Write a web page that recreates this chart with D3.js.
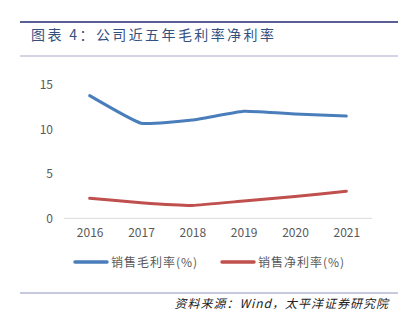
<!DOCTYPE html>
<html><head><meta charset="utf-8">
<script src="https://cdn.jsdelivr.net/npm/d3@7"></script>
<style>body{margin:0;background:#fff;}svg{display:block;}</style>
</head><body><svg id="c" width="410" height="324"></svg>
<script>
const years = ["2016","2017","2018","2019","2020","2021"];
const grossMargin = [13.8, 10.7, 11.05, 12.05, 11.75, 11.5];
const netMargin = [2.25, 1.75, 1.45, 1.95, 2.45, 3.05];
const yTicks = [0, 5, 10, 15];
const seriesNames = ["销售毛利率(%)", "销售净利率(%)"];
const titleText = "图表 4：公司近五年毛利率净利率";
const sourceText = "资料来源：Wind，太平洋证券研究院";

const svg = d3.select("#c");
const font = "'Noto Sans CJK SC', 'Noto Sans', sans-serif";
svg.append("rect").attr("width",410).attr("height",324).attr("fill","#fff");
svg.append("line").attr("x1",20).attr("x2",398).attr("y1",22).attr("y2",22).attr("stroke","#5b5f97").attr("stroke-width",2);
svg.append("text").attr("x",31).attr("y",39.5).attr("font-family",font).attr("font-size",14).attr("fill","#34507f").attr("letter-spacing",2.4).text(titleText);
svg.append("line").attr("x1",20).attr("x2",398).attr("y1",56).attr("y2",56).attr("stroke","#a9abc9").attr("stroke-width",1);

const x = d3.scalePoint().domain(years).range([64,372]).padding(0.5);
const y = d3.scaleLinear().domain([0,15]).range([218.3,85]);

svg.append("line").attr("x1",64).attr("x2",372).attr("y1",y(0)).attr("y2",y(0)).attr("stroke","#d9d9d9").attr("stroke-width",1);

const yAxis = d3.axisLeft(y).tickValues(yTicks).tickSize(0).tickPadding(0);
const yg = svg.append("g").attr("transform","translate(53,0)").call(yAxis);
yg.select(".domain").remove();
yg.selectAll("text").attr("font-family",font).attr("font-size",12).attr("fill","#595959");

const xAxis = d3.axisBottom(x).tickSize(0).tickPadding(0);
const xg = svg.append("g").attr("transform","translate(0,228)").call(xAxis);
xg.select(".domain").remove();
xg.selectAll("text").attr("font-family",font).attr("font-size",12).attr("fill","#595959");

const line = d3.line().x((d,i)=>x(years[i])).y(d=>y(d)).curve(d3.curveCardinal.tension(0.6));
const colors = ["#4a7ebb","#c0504d"];
[grossMargin, netMargin].forEach((s,i)=>{
  svg.append("path").attr("d",line(s)).attr("fill","none").attr("stroke",colors[i]).attr("stroke-width",3).attr("stroke-linecap","round").attr("stroke-linejoin","round");
});

const legX = [75, 222];
seriesNames.forEach((n,i)=>{
  svg.append("line").attr("x1",legX[i]).attr("x2",legX[i]+32).attr("y1",262).attr("y2",262).attr("stroke",colors[i]).attr("stroke-width",3.5).attr("stroke-linecap","round");
  svg.append("text").attr("x",legX[i]+36).attr("y",266.5).attr("font-family",font).attr("font-size",12).attr("fill","#595959").attr("letter-spacing",1).text(n);
});

svg.append("line").attr("x1",20).attr("x2",398).attr("y1",293).attr("y2",293).attr("stroke","#8f93bd").attr("stroke-width",1);
svg.append("text").attr("x",389).attr("y",308).attr("text-anchor","end").attr("font-family",font).attr("font-size",12).attr("font-style","italic").attr("fill","#222").attr("letter-spacing",1).text(sourceText);
</script></body></html>
